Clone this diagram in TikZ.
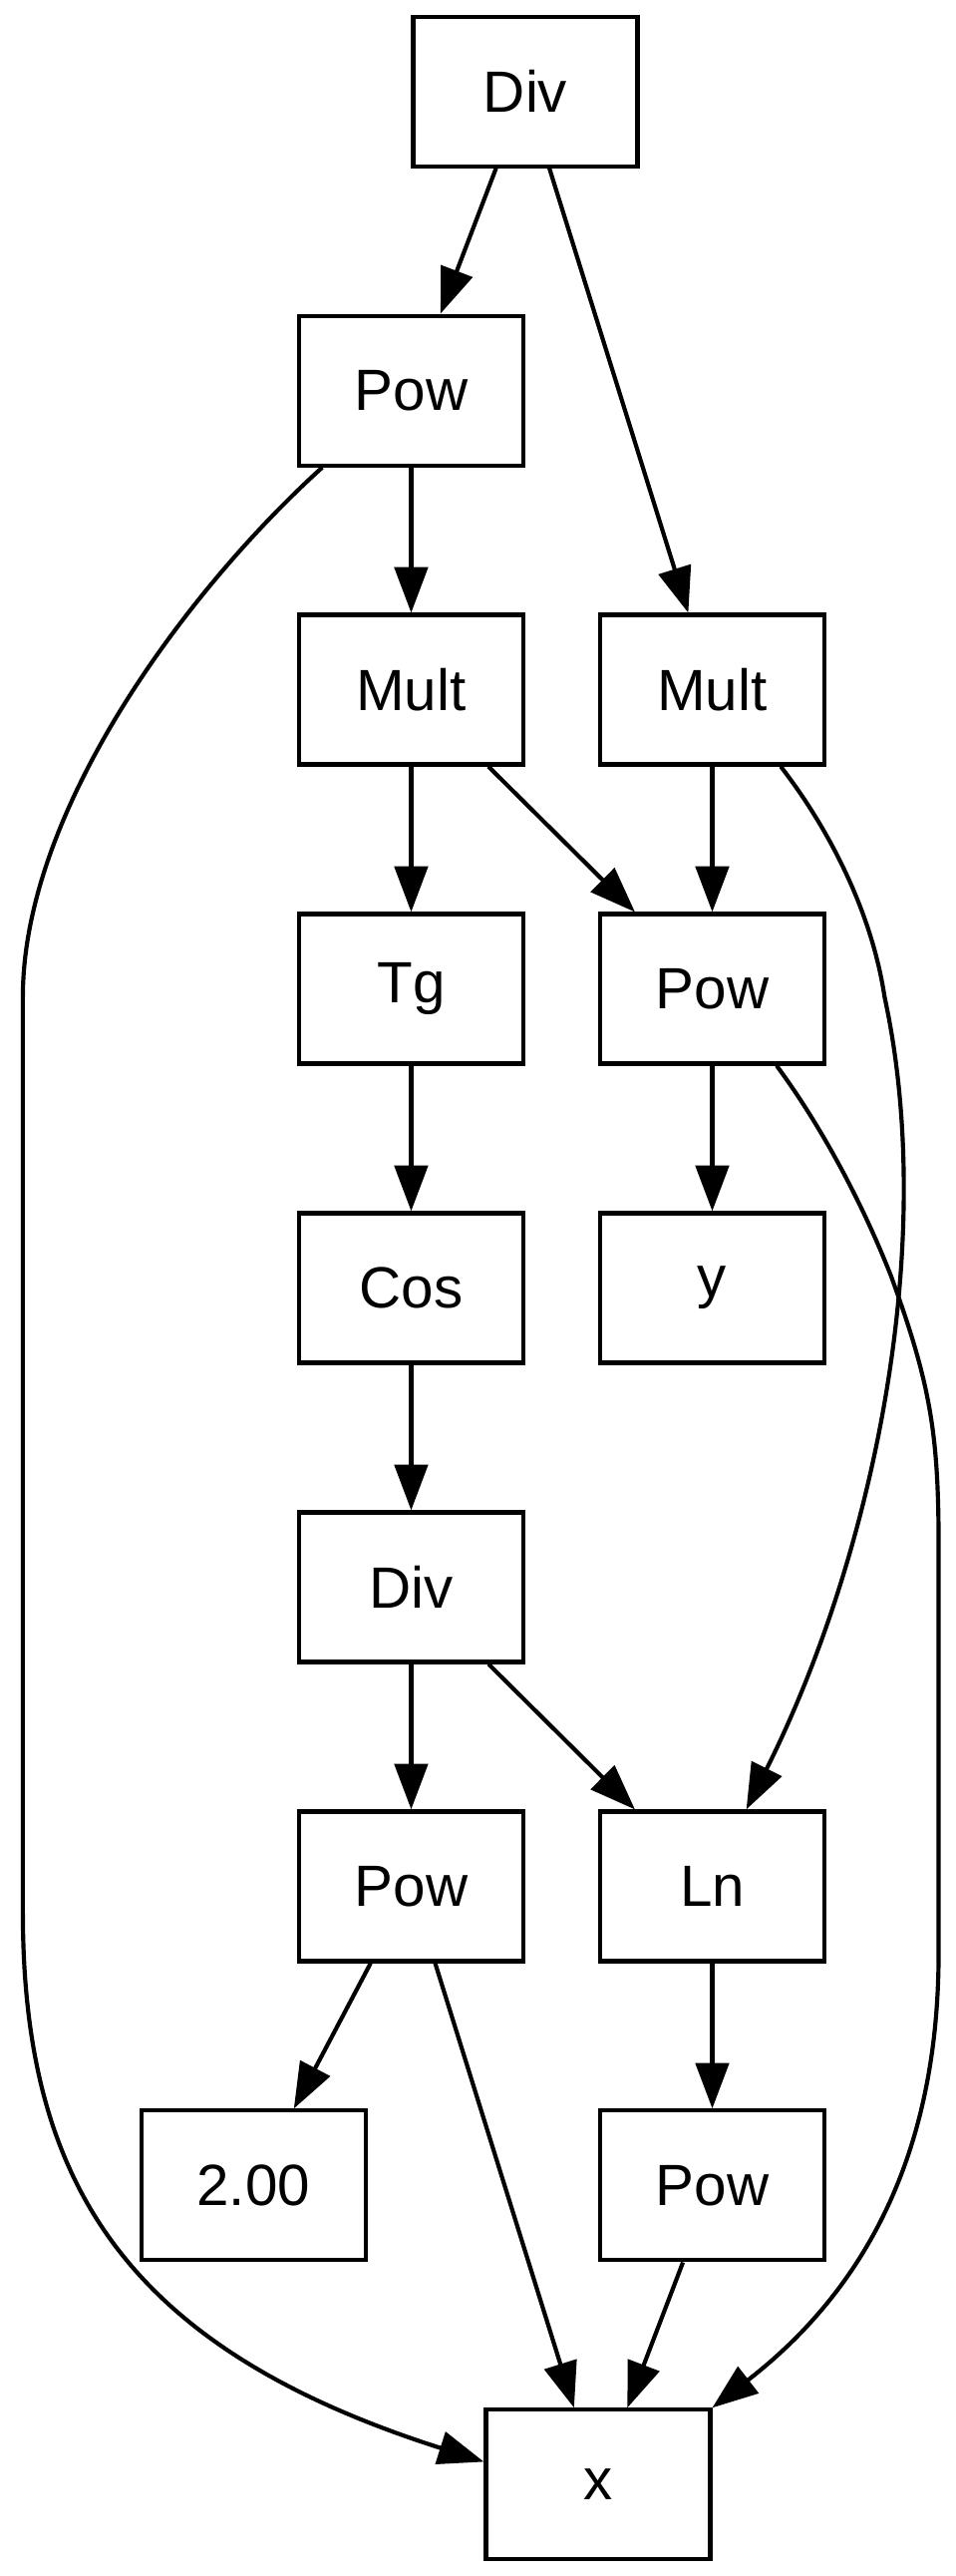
\documentclass[tikz,border=0pt]{standalone}
\usepackage{fontspec}
\setmainfont{Liberation Sans}
\usetikzlibrary{arrows.meta,calc}
\begin{document}
\begin{tikzpicture}[x=1pt,y=-1pt,
  box/.style={draw,line width=1pt,minimum width=54pt,minimum height=36pt,inner sep=0pt,font=\fontsize{14}{16}\selectfont},
  edge/.style={line width=1pt,-{Triangle[length=11pt,width=8pt]}}]
\useasboundingbox (0,0) rectangle (230,620);
% nodes
\node[box] (div1)  at (126.5,22)  {Div};
\node[box] (pow1)  at (99,94)     {Pow};
\node[box] (mult1) at (99,166)    {Mult};
\node[box] (mult2) at (171.5,166) {Mult};
\node[box] (tg)    at (99,238)    {Tg};
\node[box] (pow2)  at (171.5,238) {Pow};
\node[box] (cos)   at (99,310)    {Cos};
\node[box] (y)     at (171.5,310) {y};
\node[box] (div2)  at (99,382)    {Div};
\node[box] (pow3)  at (99,454)    {Pow};
\node[box] (ln)    at (171.5,454) {Ln};
\node[box] (two)   at (61,526)    {2.00};
\node[box] (pow4)  at (171.5,526) {Pow};
\node[box] (x)     at (144,598)   {x};
% straight edges
\draw[edge] (div1) -- (pow1);
\draw[edge] (div1) -- (mult2);
\draw[edge] (pow1) -- (mult1);
\draw[edge] (mult1) -- (tg);
\draw[edge] (mult1) -- (pow2);
\draw[edge] (mult2) -- (pow2);
\draw[edge] (pow2) -- (y);
\draw[edge] (tg) -- (cos);
\draw[edge] (cos) -- (div2);
\draw[edge] (div2) -- (pow3);
\draw[edge] (div2) -- (ln);
\draw[edge] (pow3) -- (two);
\draw[edge] (pow3) -- (x);
\draw[edge] (ln) -- (pow4);
\draw[edge] (pow4) -- (x);
% curved edges
\draw[edge] ($(pow1.south)+(-21.4,0)$) .. controls (45,142) and (5.5,195) .. (5.5,240)
  -- (5.5,460) .. controls (5.5,525) and (30,565) .. ($(x.west)+(0,-5.5)$);
\draw[edge] ($(mult2.south)+(16.5,0)$) .. controls (200,200) and (210,220) .. (213,240)
  .. controls (226,300) and (210,375) .. ($(ln.north)+(8.2,0)$);
\draw[edge] ($(pow2.south)+(15.5,0)$) .. controls (197,270) and (207,288) .. (214.5,307)
  .. controls (224,333) and (226,345) .. (226,372) -- (226,470)
  .. controls (226,520) and (207,552) .. (x.north east);
\end{tikzpicture}
\end{document}
